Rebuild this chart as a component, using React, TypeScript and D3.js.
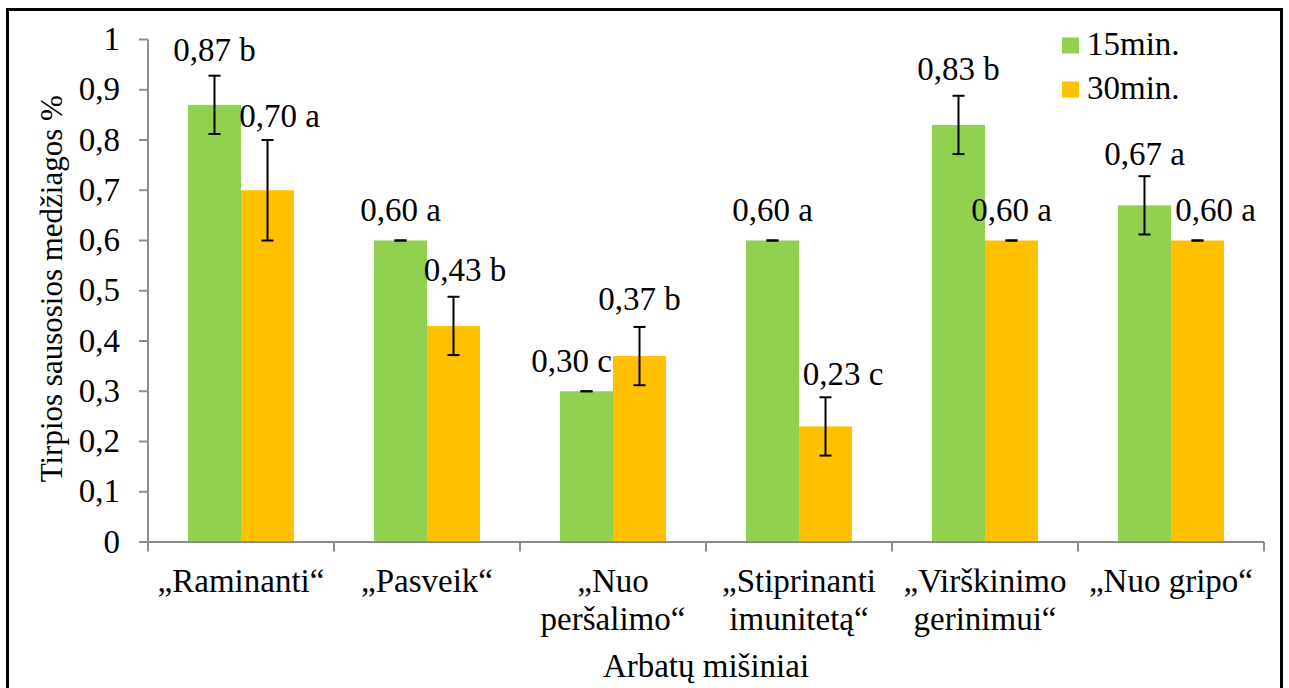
import React from "react";
import * as d3 from "d3";

const categories: string[][] = [
  ["„Raminanti“"],
  ["„Pasveik“"],
  ["„Nuo", "peršalimo“"],
  ["„Stiprinanti", "imunitetą“"],
  ["„Virškinimo", "gerinimui“"],
  ["„Nuo gripo“"],
];
const seriesNames = ["15min.", "30min."];
const values15 = [0.87, 0.6, 0.3, 0.6, 0.83, 0.67];
const values30 = [0.7, 0.43, 0.37, 0.23, 0.6, 0.6];
const errors15 = [0.058, 0, 0, 0, 0.058, 0.058];
const errors30 = [0.1, 0.058, 0.058, 0.058, 0, 0];
const letters15 = ["b", "a", "c", "a", "b", "a"];
const letters30 = ["a", "b", "b", "c", "a", "a"];
const yTicks = [0, 0.1, 0.2, 0.3, 0.4, 0.5, 0.6, 0.7, 0.8, 0.9, 1];

// label nudges (layout only)
const labelDx15 = [0, 0, -15, 0, 0, 0];
const labelDy15 = [-44, -19.5, -19.5, -19.5, -44.5, -40];
const labelDx30 = [12, 11.5, 0, 17.5, 0, 18];
const labelDy30 = [-63, -45, -46.5, -41.5, -20, -20];

const colors = ["#92D050", "#FFC000"];
const W = 1289;
const H = 688;
const FONT = `"Liberation Serif", serif`;
const FS = 33;
const textStyle: React.CSSProperties = { fontFamily: FONT, fontSize: FS };
const titleStyle: React.CSSProperties = { fontFamily: FONT, fontSize: 31 };

export default function App() {
  const left = 148, right = 1264, top = 39.5, bottom = 542;
  const x0 = d3.scaleBand<number>().domain(d3.range(categories.length)).range([left, right]).padding(0);
  const bw = x0.bandwidth();
  const gw = bw * 0.57;
  const x1 = d3.scaleBand<number>().domain([0, 1]).range([(bw - gw) / 2, (bw + gw) / 2]).padding(0);
  const y = d3.scaleLinear().domain([0, 1]).range([bottom, top]);

  const series = [
    { vals: values15, errs: errors15, letters: letters15, dx: labelDx15, dy: labelDy15 },
    { vals: values30, errs: errors30, letters: letters30, dx: labelDx30, dy: labelDy30 },
  ];
  const fmt = (v: number) => v.toFixed(2).replace(".", ",");
  const axisColor = "#8C8C8C";

  return (
    <svg width={W} height={H} style={{ position: "absolute", left: 0, top: 0, background: "#fff" }}>
      <rect x={0} y={0} width={W} height={H} fill="#fff" />
      <rect x={7.5} y={9.5} width={1274} height={720} fill="none" stroke="#000" strokeWidth={3} />

      {series.map((s, si) =>
        s.vals.map((v, ci) => (
          <rect
            key={`b${si}-${ci}`}
            x={(x0(ci) as number) + (x1(si) as number)}
            y={y(v)}
            width={x1.bandwidth()}
            height={y(0) - y(v)}
            fill={colors[si]}
          />
        ))
      )}

      <line x1={left} x2={left} y1={top} y2={bottom} stroke={axisColor} strokeWidth={2} />
      <line x1={left - 9} x2={right} y1={bottom} y2={bottom} stroke={axisColor} strokeWidth={2} />
      {yTicks.map((t) => (
        <g key={`yt${t}`}>
          <line x1={left - 9} x2={left} y1={y(t)} y2={y(t)} stroke={axisColor} strokeWidth={2} />
          <text x={120} y={y(t) + 10.5} textAnchor="end" style={textStyle} fill="#000">
            {t === 0 || t === 1 ? String(t) : t.toFixed(1).replace(".", ",")}
          </text>
        </g>
      ))}
      {d3.range(categories.length + 1).map((i) => {
        const xx = left + i * bw;
        return <line key={`xt${i}`} x1={xx} x2={xx} y1={bottom} y2={bottom + 9.5} stroke={axisColor} strokeWidth={2} />;
      })}

      {series.map((s, si) =>
        s.vals.map((v, ci) => {
          const cx = (x0(ci) as number) + (x1(si) as number) + x1.bandwidth() / 2;
          const e = s.errs[ci];
          const yt = y(v + e), yb = y(v - e);
          return (
            <g key={`e${si}-${ci}`} stroke="#000" strokeWidth={2}>
              <line x1={cx} x2={cx} y1={yt} y2={yb} />
              <line x1={cx - 6} x2={cx + 6} y1={yt} y2={yt} />
              <line x1={cx - 6} x2={cx + 6} y1={yb} y2={yb} />
            </g>
          );
        })
      )}

      {series.map((s, si) =>
        s.vals.map((v, ci) => {
          const cx = (x0(ci) as number) + (x1(si) as number) + x1.bandwidth() / 2;
          return (
            <text key={`l${si}-${ci}`} x={cx + s.dx[ci]} y={y(v) + s.dy[ci]} textAnchor="middle" style={textStyle} fill="#000">
              {`${fmt(v)} ${s.letters[ci]}`}
            </text>
          );
        })
      )}

      {categories.map((lines, ci) => (
        <text key={`c${ci}`} textAnchor="middle" style={textStyle} fill="#000">
          {lines.map((ln, li) => (
            <tspan key={li} x={(x0(ci) as number) + bw / 2} y={592 + li * 37.5}>
              {ln}
            </tspan>
          ))}
        </text>
      ))}

      <text x={(left + right) / 2} y={677} textAnchor="middle" style={textStyle} fill="#000">
        Arbatų mišiniai
      </text>
      <text transform={`translate(62, ${(top + bottom) / 2 - 2}) rotate(-90)`} textAnchor="middle" style={titleStyle} fill="#000">
        Tirpios sausosios medžiagos %
      </text>

      {seriesNames.map((n, i) => (
        <g key={`lg${i}`} transform={`translate(1062, ${37.5 + i * 44})`}>
          <rect x={0} y={0} width={17} height={16} fill={colors[i]} />
          <text x={25} y={17.5} style={textStyle} fill="#000">
            {n}
          </text>
        </g>
      ))}
    </svg>
  );
}
